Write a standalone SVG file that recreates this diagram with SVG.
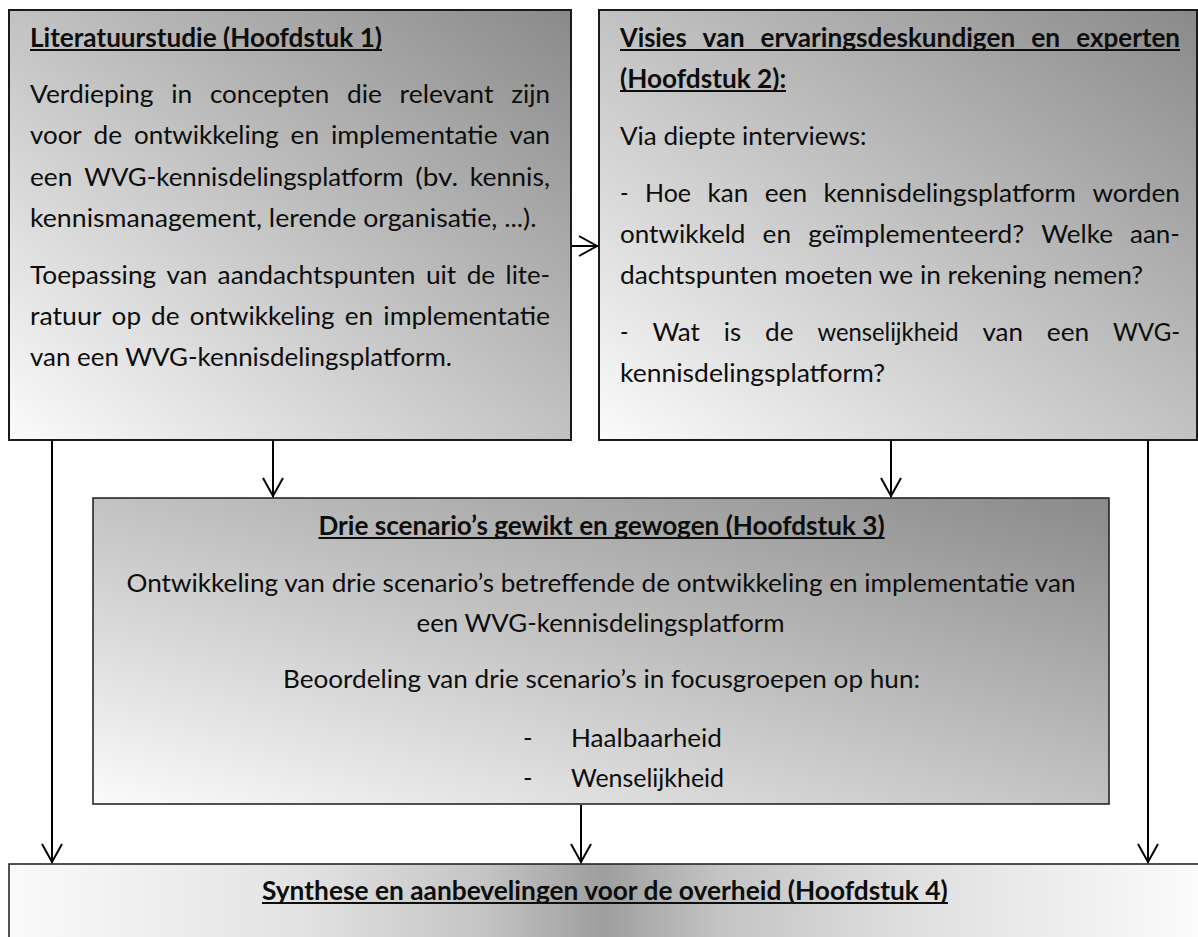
<svg xmlns="http://www.w3.org/2000/svg" width="1198" height="937" viewBox="0 0 1198 937">
<style>
  .box { stroke: #1a1a1a; }
  .t { font-family: Lato, "Liberation Sans", sans-serif; font-size: 25.7px; fill: #0d0d0d; }
  .b { font-weight: bold; }
  .ul { stroke: #0d0d0d; stroke-width: 2; }
  .conn path { fill: none; stroke: #000; stroke-width: 2; }
</style>
<defs>
  <linearGradient id="gDiag" x1="0" y1="1" x2="1" y2="0">
    <stop offset="0" stop-color="#fbfbfb"/>
    <stop offset="1" stop-color="#8a8a8a"/>
  </linearGradient>
  <linearGradient id="gMid" gradientUnits="userSpaceOnUse" x1="9" y1="0" x2="1197" y2="0">
    <stop offset="0" stop-color="#fafafa"/>
    <stop offset="0.25" stop-color="#e2e2e2"/>
    <stop offset="0.4" stop-color="#c4c4c4"/>
    <stop offset="0.5" stop-color="#9e9e9e"/>
    <stop offset="0.6" stop-color="#c4c4c4"/>
    <stop offset="0.75" stop-color="#dedede"/>
    <stop offset="1" stop-color="#fbfbfb"/>
  </linearGradient>
  <marker id="arr" markerUnits="userSpaceOnUse" markerWidth="26" markerHeight="26" viewBox="-22 -13 26 26" refX="0" refY="0" orient="auto">
    <path d="M-19,-10 L-1,0 L-19,10" fill="none" stroke="#000" stroke-width="2"/>
  </marker>
</defs>

<g id="node-literatuurstudie">
  <rect class="box" x="9" y="10" width="562" height="430" fill="url(#gDiag)" stroke-width="2"/>
  <text class="t b" x="30" y="47" textLength="352" lengthAdjust="spacingAndGlyphs">Literatuurstudie (Hoofdstuk 1)</text>
  <line class="ul" x1="30" y1="50" x2="382" y2="50"/>
  <text class="t" y="103"><tspan x="30" textLength="123.5" lengthAdjust="spacingAndGlyphs">Verdieping</tspan><tspan x="171.2" textLength="21" lengthAdjust="spacingAndGlyphs">in</tspan><tspan x="209.9" textLength="119.4" lengthAdjust="spacingAndGlyphs">concepten</tspan><tspan x="347" textLength="34.9" lengthAdjust="spacingAndGlyphs">die</tspan><tspan x="399.6" textLength="93.9" lengthAdjust="spacingAndGlyphs">relevant</tspan><tspan x="511.2" textLength="38.7" lengthAdjust="spacingAndGlyphs">zijn</tspan></text>
  <text class="t" y="144"><tspan x="30" textLength="51.8" lengthAdjust="spacingAndGlyphs">voor</tspan><tspan x="93.6" textLength="28.5" lengthAdjust="spacingAndGlyphs">de</tspan><tspan x="133.9" textLength="144.9" lengthAdjust="spacingAndGlyphs">ontwikkeling</tspan><tspan x="290.6" textLength="28.5" lengthAdjust="spacingAndGlyphs">en</tspan><tspan x="330.9" textLength="166.8" lengthAdjust="spacingAndGlyphs">implementatie</tspan><tspan x="509.5" textLength="40.6" lengthAdjust="spacingAndGlyphs">van</tspan></text>
  <text class="t" y="186"><tspan x="30" textLength="42.4" lengthAdjust="spacingAndGlyphs">een</tspan><tspan x="84.2" textLength="319.3" lengthAdjust="spacingAndGlyphs">WVG-kennisdelingsplatform</tspan><tspan x="415.3" textLength="42.7" lengthAdjust="spacingAndGlyphs">(bv.</tspan><tspan x="469.8" textLength="80.2" lengthAdjust="spacingAndGlyphs">kennis,</tspan></text>
  <text class="t" x="30" y="227" textLength="506.5" lengthAdjust="spacingAndGlyphs">kennismanagement, lerende organisatie, ...).</text>
  <text class="t" y="284"><tspan x="30" textLength="126.2" lengthAdjust="spacingAndGlyphs">Toepassing</tspan><tspan x="166.6" textLength="40.6" lengthAdjust="spacingAndGlyphs">van</tspan><tspan x="217.6" textLength="197.9" lengthAdjust="spacingAndGlyphs">aandachtspunten</tspan><tspan x="425.9" textLength="30.4" lengthAdjust="spacingAndGlyphs">uit</tspan><tspan x="466.7" textLength="28.5" lengthAdjust="spacingAndGlyphs">de</tspan><tspan x="505.6" textLength="44.6" lengthAdjust="spacingAndGlyphs">lite-</tspan></text>
  <text class="t" y="325"><tspan x="30" textLength="71.5" lengthAdjust="spacingAndGlyphs">ratuur</tspan><tspan x="111.6" textLength="29.4" lengthAdjust="spacingAndGlyphs">op</tspan><tspan x="151.1" textLength="28.5" lengthAdjust="spacingAndGlyphs">de</tspan><tspan x="189.7" textLength="144.9" lengthAdjust="spacingAndGlyphs">ontwikkeling</tspan><tspan x="344.7" textLength="28.5" lengthAdjust="spacingAndGlyphs">en</tspan><tspan x="383.3" textLength="166.8" lengthAdjust="spacingAndGlyphs">implementatie</tspan></text>
  <text class="t" x="30" y="366" textLength="422" lengthAdjust="spacingAndGlyphs">van een WVG-kennisdelingsplatform.</text>
</g>

<g id="node-visies">
  <rect class="box" x="599" y="10" width="598" height="430" fill="url(#gDiag)" stroke-width="2"/>
  <text class="t b" y="47"><tspan x="620" textLength="66.6" lengthAdjust="spacingAndGlyphs">Visies</tspan><tspan x="702.6" textLength="42" lengthAdjust="spacingAndGlyphs">van</tspan><tspan x="760.6" textLength="254.6" lengthAdjust="spacingAndGlyphs">ervaringsdeskundigen</tspan><tspan x="1031.2" textLength="29" lengthAdjust="spacingAndGlyphs">en</tspan><tspan x="1076.3" textLength="103.7" lengthAdjust="spacingAndGlyphs">experten</tspan></text>
  <line class="ul" x1="620" y1="50" x2="1180" y2="50"/>
  <text class="t b" x="620" y="88" textLength="166.2" lengthAdjust="spacingAndGlyphs">(Hoofdstuk 2):</text>
  <line class="ul" x1="620" y1="91" x2="786" y2="91"/>
  <text class="t" x="620" y="145" textLength="246.6" lengthAdjust="spacingAndGlyphs">Via diepte interviews:</text>
  <text class="t" y="202"><tspan x="620" textLength="8.5" lengthAdjust="spacingAndGlyphs">-</tspan><tspan x="645" textLength="46" lengthAdjust="spacingAndGlyphs">Hoe</tspan><tspan x="707.5" textLength="40.7" lengthAdjust="spacingAndGlyphs">kan</tspan><tspan x="764.7" textLength="42.4" lengthAdjust="spacingAndGlyphs">een</tspan><tspan x="823.6" textLength="252.2" lengthAdjust="spacingAndGlyphs">kennisdelingsplatform</tspan><tspan x="1092.4" textLength="87.6" lengthAdjust="spacingAndGlyphs">worden</tspan></text>
  <text class="t" y="243"><tspan x="620" textLength="125.4" lengthAdjust="spacingAndGlyphs">ontwikkeld</tspan><tspan x="762.6" textLength="28.5" lengthAdjust="spacingAndGlyphs">en</tspan><tspan x="808.2" textLength="215.9" lengthAdjust="spacingAndGlyphs">geïmplementeerd?</tspan><tspan x="1041.3" textLength="71.7" lengthAdjust="spacingAndGlyphs">Welke</tspan><tspan x="1130.1" textLength="49.9" lengthAdjust="spacingAndGlyphs">aan-</tspan></text>
  <text class="t" x="620" y="284" textLength="523.1" lengthAdjust="spacingAndGlyphs">dachtspunten moeten we in rekening nemen?</text>
  <text class="t" y="341"><tspan x="620" textLength="8.5" lengthAdjust="spacingAndGlyphs">-</tspan><tspan x="652.4" textLength="47.5" lengthAdjust="spacingAndGlyphs">Wat</tspan><tspan x="723.8" textLength="17.3" lengthAdjust="spacingAndGlyphs">is</tspan><tspan x="765" textLength="28.5" lengthAdjust="spacingAndGlyphs">de</tspan><tspan x="817.4" textLength="141.1" lengthAdjust="spacingAndGlyphs">wenselijkheid</tspan><tspan x="982.4" textLength="40.6" lengthAdjust="spacingAndGlyphs">van</tspan><tspan x="1046.8" textLength="42.4" lengthAdjust="spacingAndGlyphs">een</tspan><tspan x="1113" textLength="67.1" lengthAdjust="spacingAndGlyphs">WVG-</tspan></text>
  <text class="t" x="620" y="382" textLength="265.1" lengthAdjust="spacingAndGlyphs">kennisdelingsplatform?</text>
</g>

<g id="node-scenarios">
  <rect class="box" x="93" y="498" width="1016" height="306" fill="url(#gDiag)" stroke-width="1.5"/>
  <text class="t b" x="601.5" y="535" text-anchor="middle" textLength="566.2" lengthAdjust="spacingAndGlyphs">Drie scenario’s gewikt en gewogen (Hoofdstuk 3)</text>
  <line class="ul" x1="318.4" y1="538" x2="884.6" y2="538"/>
  <text class="t" x="601" y="592" text-anchor="middle" textLength="949" lengthAdjust="spacingAndGlyphs">Ontwikkeling van drie scenario’s betreffende de ontwikkeling en implementatie van</text>
  <text class="t" x="600.5" y="632" text-anchor="middle" textLength="368" lengthAdjust="spacingAndGlyphs">een WVG-kennisdelingsplatform</text>
  <text class="t" x="601.5" y="688" text-anchor="middle" textLength="637" lengthAdjust="spacingAndGlyphs">Beoordeling van drie scenario’s in focusgroepen op hun:</text>
  <text class="t" x="523" y="747">-</text>
  <text class="t" x="571" y="747" textLength="151" lengthAdjust="spacingAndGlyphs">Haalbaarheid</text>
  <text class="t" x="523" y="787">-</text>
  <text class="t" x="571" y="787" textLength="153" lengthAdjust="spacingAndGlyphs">Wenselijkheid</text>
</g>

<g id="node-synthese">
  <rect class="box" x="9" y="864" width="1200" height="90" fill="url(#gMid)" stroke-width="1.5"/>
  <text class="t b" x="262" y="900" textLength="685.8" lengthAdjust="spacingAndGlyphs">Synthese en aanbevelingen voor de overheid (Hoofdstuk 4)</text>
  <line class="ul" x1="262" y1="903" x2="948" y2="903"/>
</g>

<g id="connectors" class="conn">
  <path d="M571,246 H598" marker-end="url(#arr)"/>
  <path d="M52,441 V863" marker-end="url(#arr)"/>
  <path d="M273,441 V497" marker-end="url(#arr)"/>
  <path d="M891,441 V497" marker-end="url(#arr)"/>
  <path d="M1148,441 V863" marker-end="url(#arr)"/>
  <path d="M581,805 V863" marker-end="url(#arr)"/>
</g>
</svg>
